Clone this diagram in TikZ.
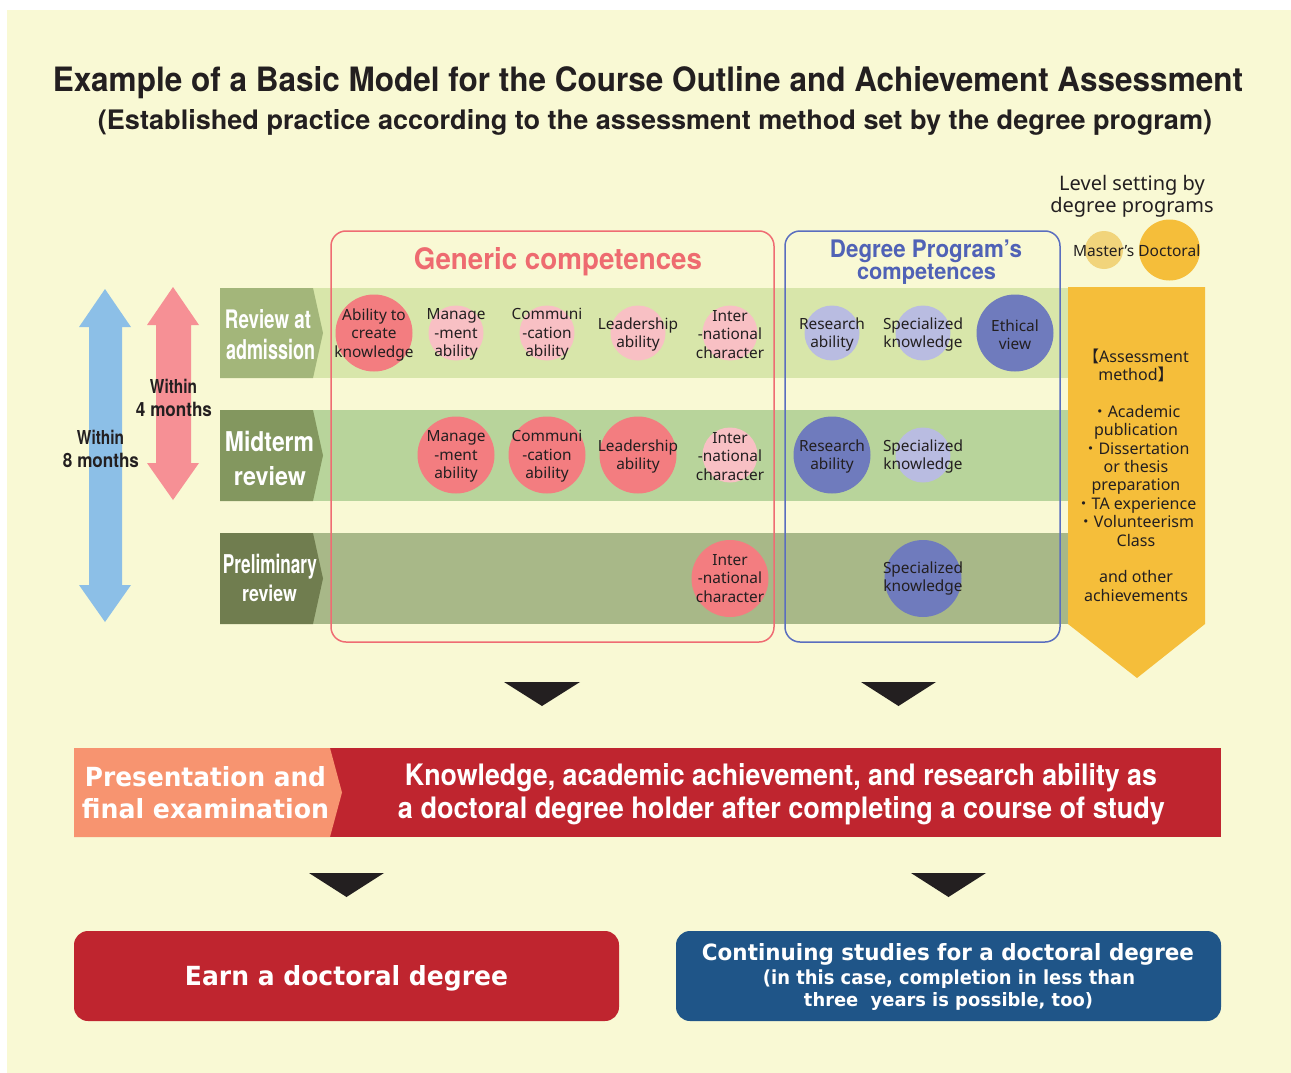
\documentclass[tikz,border=0pt]{standalone}
\usepackage{graphicx}
\usepackage{fontspec}
\setmainfont{Noto Sans}
\newfontfamily\condb[FakeStretch=0.75]{TeX Gyre Heros}
\newfontfamily\vsans{DejaVu Sans}
\newfontfamily\cjk{Noto Sans CJK JP}
\newcommand\fwh[3]{\resizebox{#1}{#2}{#3}}
\definecolor{bgc}{RGB}{249,249,212}
\definecolor{txtc}{RGB}{35,31,32}
\definecolor{band1}{RGB}{216,230,170}
\definecolor{band2}{RGB}{184,212,155}
\definecolor{band3}{RGB}{168,184,136}
\definecolor{lab1}{RGB}{163,182,122}
\definecolor{lab2}{RGB}{131,151,95}
\definecolor{lab3}{RGB}{112,125,79}
\definecolor{strongc}{RGB}{243,125,128}
\definecolor{lightc}{RGB}{248,192,196}
\definecolor{lavc}{RGB}{185,188,225}
\definecolor{darkc}{RGB}{111,123,189}
\definecolor{redline}{RGB}{239,108,115}
\definecolor{blueline}{RGB}{90,110,191}
\definecolor{gentext}{RGB}{238,107,112}
\definecolor{degtext}{RGB}{80,98,182}
\definecolor{orng}{RGB}{245,190,58}
\definecolor{mastc}{RGB}{241,212,123}
\definecolor{bluea}{RGB}{140,191,231}
\definecolor{pinka}{RGB}{246,144,149}
\definecolor{barorng}{RGB}{247,148,112}
\definecolor{barred}{RGB}{191,37,47}
\definecolor{boxblue}{RGB}{31,85,136}
\begin{document}
\begin{tikzpicture}[x=1pt,y=-1pt,
  every node/.style={inner sep=0pt,outer sep=0pt},
  circ/.style={circle,minimum size=#1,draw=none},
  ctext/.style={align=center,font=\fontsize{15.4}{18.5}\selectfont,text=txtc},
  rowlab/.style={anchor=base,text=white},
  tri/.style={fill=txtc},
  outbox/.style={rounded corners=15pt,line width=1.5pt,fill=none},
  endbox/.style={rounded corners=14pt,minimum width=545pt,minimum height=90pt}]
\useasboundingbox (0,0) rectangle (1291,1073);
\fill[bgc] (7,10) rectangle (1291,1073);

% titles
\node[anchor=base,text=txtc] (t1) at (648,92) {\fwh{1190pt}{25pt}{\condb\bfseries Example of a Basic Model for the Course Outline and Achievement Assessment}};
\node[anchor=base,text=txtc] (t2) at (655,130) {\fwh{1114pt}{20pt}{\condb\bfseries (Established practice according to the assessment method set by the degree program)}};

% level setting
\node[anchor=base,text=txtc,font=\fontsize{20}{24}\selectfont] (lv1) at (1132,190) {Level setting by};
\node[anchor=base,text=txtc,font=\fontsize{20}{24}\selectfont] (lv2) at (1132,212) {degree programs};
\node[circ=38pt,fill=mastc] (mc) at (1104,250) {};
\node[circ=61pt,fill=orng] (dc) at (1169.5,250) {};
\node[anchor=base,text=txtc,font=\fontsize{15.5}{18}\selectfont] (md) at (1136.7,256) {Master's Doctoral};

% left arrows
\fill[bluea] (105,289) -- (131,327) -- (122,327) -- (122,585) -- (131,585) -- (105,622) -- (79,585) -- (89,585) -- (89,327) -- (79,327) -- cycle;
\fill[pinka] (173,287) -- (199,325) -- (191,325) -- (191,463) -- (199,463) -- (173,500) -- (147,463) -- (156,463) -- (156,325) -- (147,325) -- cycle;
\node[anchor=base,text=txtc] (w8a) at (100.5,444.3) {\fwh{47pt}{14.3pt}{\condb\bfseries Within}};
\node[anchor=base,text=txtc] (w8b) at (101,467.3) {\fwh{76pt}{14.3pt}{\condb\bfseries 8 months}};
\node[anchor=base,text=txtc] (w4a) at (173.5,393.3) {\fwh{47pt}{14.3pt}{\condb\bfseries Within}};
\node[anchor=base,text=txtc] (w4b) at (174,416) {\fwh{76pt}{14.3pt}{\condb\bfseries 4 months}};

% rows
\fill[band1] (313,288) rectangle (1068,378);
\fill[lab1] (220,288) -- (313,288) -- (323,333) -- (313,378) -- (220,378) -- cycle;
\fill[band2] (313,410) rectangle (1068,501);
\fill[lab2] (220,410) -- (313,410) -- (323,455.5) -- (313,501) -- (220,501) -- cycle;
\fill[band3] (313,533) rectangle (1068,624);
\fill[lab3] (220,533) -- (313,533) -- (323,578.5) -- (313,624) -- (220,624) -- cycle;

\node[rowlab] (r1a) at (268,328.5) {\fwh{86pt}{19pt}{\condb\bfseries Review at}};
\node[rowlab] (r1b) at (270.5,359.5) {\fwh{89pt}{20.3pt}{\condb\bfseries admission}};
\node[rowlab] (r2a) at (269.5,451) {\fwh{89pt}{20.3pt}{\condb\bfseries Midterm}};
\node[rowlab] (r2b) at (270,485.7) {\fwh{72pt}{19pt}{\condb\bfseries review}};
\node[rowlab] (r3a) at (270,573.3) {\fwh{94pt}{19.3pt}{\condb\bfseries Preliminary}};
\node[rowlab] (r3b) at (269.5,601.7) {\fwh{55pt}{16.5pt}{\condb\bfseries review}};

% circles row 1
\node[circ=77pt,fill=strongc] (c11) at (374,333) {};
\node[circ=55pt,fill=lightc] (c12) at (456,333) {};
\node[circ=55pt,fill=lightc] (c13) at (547,333) {};
\node[circ=55pt,fill=lightc] (c14) at (638,333) {};
\node[circ=55pt,fill=lightc] (c15) at (730,333) {};
\node[circ=55pt,fill=lavc] (c16) at (832,333) {};
\node[circ=55pt,fill=lavc] (c17) at (923,333) {};
\node[circ=77pt,fill=darkc] (c18) at (1015,333) {};
% row 2
\node[circ=77pt,fill=strongc] (c22) at (456,455) {};
\node[circ=77pt,fill=strongc] (c23) at (547,455) {};
\node[circ=77pt,fill=strongc] (c24) at (638,455) {};
\node[circ=55pt,fill=lightc] (c25) at (730,455) {};
\node[circ=77pt,fill=darkc] (c26) at (832,455) {};
\node[circ=55pt,fill=lavc] (c27) at (923,455) {};
% row 3
\node[circ=77pt,fill=strongc] (c35) at (730,578.5) {};
\node[circ=77pt,fill=darkc] (c37) at (923,578.5) {};

\begin{scope}[every node/.append style={yshift=-1.5pt}]
\node[ctext] (l11) at (c11) {Ability to\\create\\knowledge};
\node[ctext] (l12) at (c12) {Manage\\-ment\\ability};
\node[ctext] (l13) at (c13) {Communi\\-cation\\ability};
\node[ctext] (l14) at (c14) {Leadership\\ability};
\node[ctext] (l15) at (c15) {Inter\\-national\\character};
\node[ctext] (l16) at (c16) {Research\\ability};
\node[ctext] (l17) at (c17) {Specialized\\knowledge};
\node[ctext] (l18) at (c18) {Ethical\\view};
\node[ctext] (l22) at (c22) {Manage\\-ment\\ability};
\node[ctext] (l23) at (c23) {Communi\\-cation\\ability};
\node[ctext] (l24) at (c24) {Leadership\\ability};
\node[ctext] (l25) at (c25) {Inter\\-national\\character};
\node[ctext] (l26) at (c26) {Research\\ability};
\node[ctext] (l27) at (c27) {Specialized\\knowledge};
\end{scope}
\node[ctext] (l35) at (c35) {Inter\\-national\\character};
\node[ctext] (l37) at (c37) {Specialized\\knowledge};

% competence boxes
\node[outbox,draw=redline,minimum width=443pt,minimum height=411pt] (gen) at (552.5,436.5) {};
\node[outbox,draw=blueline,minimum width=275pt,minimum height=411pt] (deg) at (922.5,436.5) {};
\node[anchor=base,text=gentext] (gent) at (558,269.5) {\fwh{288pt}{22pt}{\condb\bfseries Generic competences}};
\node[anchor=base,text=degtext] (degt1) at (926,257.3) {\fwh{192pt}{17.6pt}{\condb\bfseries Degree Program’s}};
\node[anchor=base,text=degtext] (degt2) at (926.5,279) {\fwh{139pt}{15.3pt}{\condb\bfseries competences}};

% assessment column
\fill[orng] (1068,287) -- (1205,287) -- (1205,624) -- (1137,678) -- (1068,624) -- cycle;
\node[align=center,text=txtc,font=\fontsize{16}{18.4}\selectfont] (assess) at (1136,475) {{\cjk【}Assessment\\method{\cjk】}\\[18.4pt]{\cjk・}Academic\\publication\\{\cjk・}Dissertation\\or thesis\\preparation\\{\cjk・}TA experience\\{\cjk・}Volunteerism\\Class\\[18.4pt]and other\\achievements};

% down triangles
\fill[tri] (504,682) -- (580,682) -- (542,706) -- cycle;
\fill[tri] (861,682) -- (936,682) -- (898.5,706) -- cycle;

% bar
\fill[barred] (330,748) rectangle (1221,837);
\fill[barorng] (74,748) -- (330,748) -- (342,792.5) -- (330,837) -- (74,837) -- cycle;
\node[anchor=base,text=white] (p1) at (205.5,786.7) {\fwh{241pt}{20pt}{\vsans\bfseries Presentation and}};
\node[anchor=base,text=white] (p2) at (205.5,818.3) {\fwh{247pt}{20pt}{\vsans\bfseries final examination}};
\node[anchor=base,text=white] (k1) at (781,785) {\fwh{752pt}{22pt}{\condb\bfseries Knowledge, academic achievement, and research ability as}};
\node[anchor=base,text=white] (k2) at (781.5,818.3) {\fwh{767pt}{22pt}{\condb\bfseries a doctoral degree holder after completing a course of study}};

\fill[tri] (309,873) -- (384,873) -- (346.5,897) -- cycle;
\fill[tri] (911,873) -- (986,873) -- (948.5,897) -- cycle;

% end boxes
\node[endbox,fill=barred] (earn) at (346.5,976) {};
\node[endbox,fill=boxblue] (cont) at (948.5,976) {};
\node[anchor=base,text=white] (e1) at (346.5,985) {\fwh{323pt}{20pt}{\vsans\bfseries Earn a doctoral degree}};
\node[anchor=base,text=white] (s1) at (948,960) {\fwh{492pt}{17pt}{\vsans\bfseries Continuing studies for a doctoral degree}};
\node[anchor=base,text=white] (s2) at (949,984) {\fwh{372pt}{14.7pt}{\vsans\bfseries (in this case, completion in less than}};
\node[anchor=base,text=white] (s3) at (948.5,1006.7) {\fwh{289pt}{14pt}{\vsans\bfseries three\ \ years is possible, too)}};
\end{tikzpicture}
\end{document}
